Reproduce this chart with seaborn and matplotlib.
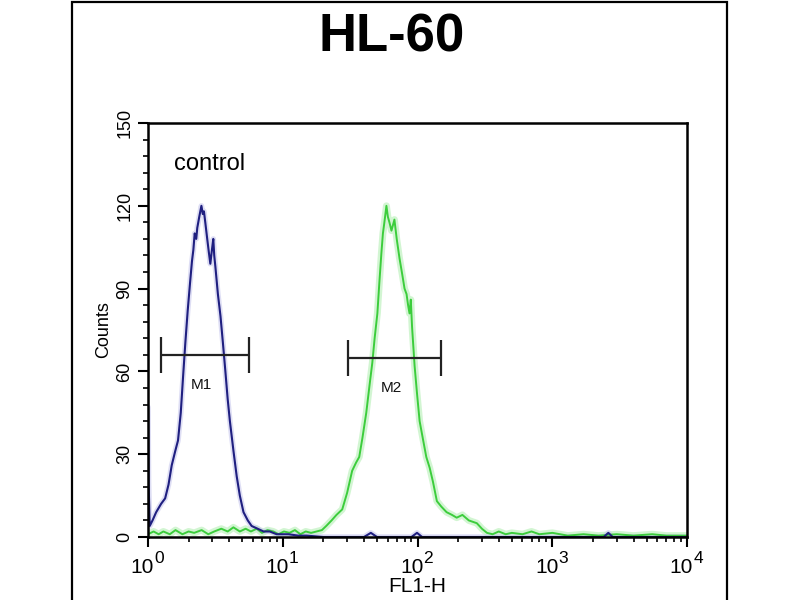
import matplotlib
matplotlib.use("Agg")
import matplotlib.pyplot as plt
import matplotlib.patches as patches
from matplotlib.ticker import LogLocator, MultipleLocator, NullFormatter, FixedLocator
import numpy as np
import pandas as pd
import seaborn as sns

# --- data (FL1-H channel value, counts) ---
control_x = [1.00, 1.01, 1.03, 1.08, 1.15, 1.25, 1.34, 1.42, 1.50, 1.59, 1.67, 1.75,
             1.82, 1.89, 1.97, 2.05, 2.12, 2.17, 2.22, 2.28, 2.32, 2.40, 2.49, 2.55,
             2.60, 2.66, 2.75, 2.83, 2.90, 2.98, 3.05, 3.10, 3.16, 3.30, 3.45, 3.60,
             3.75, 3.90, 4.05, 4.31, 4.55, 4.80, 5.11, 5.50, 5.87, 6.50, 7.20, 8.00,
             9.00, 10.0, 11.0, 13.0, 15.0, 20.0, 40.0, 45.0, 50.0, 90.0, 99.0, 108,
             1000, 2400, 2600, 2800, 10000]
control_y = [47, 20, 4, 6, 9, 12, 14, 19, 26, 31, 35, 45,
             58, 70, 82, 92, 100, 104, 110, 108, 112, 116, 120, 117,
             118, 114, 108, 103, 99, 104, 108, 102, 98, 88, 80, 70,
             60, 50, 42, 31, 22, 15, 9, 6, 4, 3, 2, 2,
             1, 1, 1, 0.5, 0.5, 0, 0, 1.5, 0, 0, 1.5, 0,
             0, 0, 1.5, 0, 0]

sample_x = [1.00, 1.10, 1.20, 1.30, 1.45, 1.60, 1.80, 2.00, 2.20, 2.50, 2.80, 3.10,
            3.50, 3.90, 4.30, 4.80, 5.30, 5.80, 6.40, 7.00, 7.70, 8.50, 9.30, 10.2,
            11.2, 12.3, 13.5, 14.8, 16.2, 17.8, 19.5, 21.0, 23.0, 25.0, 27.6, 30.0,
            32.7, 35.0, 36.9, 39.0, 41.6, 44.0, 46.1, 48.0, 50.3, 52.0, 53.9, 55.3,
            56.7, 58.7, 60.2, 61.8, 64.0, 67.3, 70.0, 73.4, 77.0, 80.0, 82.8, 85.0,
            87.1, 89.0, 91.0, 95.0, 99.0, 103.5, 110, 116, 123, 130, 139, 150,
            164, 180, 195, 215, 240, 275, 300, 327, 360, 400, 450, 500,
            600, 700, 800, 1000, 1300, 1700, 2200, 3000, 4000, 5500, 7000, 10000]
sample_y = [1, 2, 1, 2, 1, 2.5, 1, 2, 1.5, 2.5, 1, 2,
            3, 2, 3.5, 2, 3, 2, 3, 1.5, 2.5, 2, 1, 2,
            1.5, 2.5, 1, 2, 1.5, 2, 2.5, 4, 6, 8, 10, 16,
            24, 27, 29, 36, 45, 55, 63, 72, 81, 92, 103, 110,
            114, 120, 116, 114, 111, 115, 108, 101, 95, 90, 88, 84,
            81, 86, 76, 62, 52, 42, 35, 29, 25, 20, 13, 11,
            9, 8, 7, 8, 6, 5, 3, 1.5, 1, 2, 1, 1.5,
            1, 2, 1, 1.5, 0.5, 1, 0.5, 1, 0.5, 1, 0.5, 0.5]

gate_names = ["M1", "M2"]
gate_lo = [1.25, 30.5]
gate_hi = [5.57, 148]
gate_y = [66, 65]

x_ticks = [1, 10, 100, 1000, 10000]
x_exponents = ["0", "1", "2", "3", "4"]
y_ticks = [0, 30, 60, 90, 120, 150]

title = "HL-60"
annotation = "control"

# --- style ---
sns.set_style("ticks")
plt.rcParams["font.family"] = ["Liberation Sans", "DejaVu Sans"]
plt.rcParams["text.color"] = "black"
plt.rcParams["axes.labelcolor"] = "black"

fig = plt.figure(figsize=(8, 6), dpi=100)
ax = fig.add_axes([0.185, 0.105, 0.674, 0.69])

df_c = pd.DataFrame({"x": control_x, "y": control_y})
df_s = pd.DataFrame({"x": sample_x, "y": sample_y})

# soft halo under each trace, then the trace itself
sns.lineplot(data=df_s, x="x", y="y", ax=ax, color="#bff2bf", lw=5,
             estimator=None, sort=False, alpha=0.7)
sns.lineplot(data=df_c, x="x", y="y", ax=ax, color="#c9c9ee", lw=4,
             estimator=None, sort=False, alpha=0.6)
sns.lineplot(data=df_s, x="x", y="y", ax=ax, color="#3ccd3c", lw=1.4,
             estimator=None, sort=False)
sns.lineplot(data=df_c, x="x", y="y", ax=ax, color="#1f1f80", lw=1.5,
             estimator=None, sort=False)

ax.set_xscale("log")
ax.set_xlim(x_ticks[0], x_ticks[-1])
ax.set_ylim(y_ticks[0], y_ticks[-1])

# gate markers
for name, lo, hi, gy in zip(gate_names, gate_lo, gate_hi, gate_y):
    ax.hlines(gy, lo, hi, color="#222222", lw=1.6)
    ax.vlines([lo, hi], gy - 6.5, gy + 6.5, color="#222222", lw=1.6)
    ax.text(np.sqrt(lo * hi) * 0.95, gy - 11, name, fontsize=11,
            ha="center", va="center", color="#111111")

ax.text(1.55, 135, annotation, fontsize=17, ha="left", va="center")

# axes cosmetics
for sp in ax.spines.values():
    sp.set_visible(True)
    sp.set_linewidth(1.8)
    sp.set_color("black")

ax.yaxis.set_major_locator(FixedLocator(y_ticks))
ax.yaxis.set_minor_locator(MultipleLocator(6))
ax.xaxis.set_major_locator(FixedLocator(x_ticks))
ax.xaxis.set_minor_locator(LogLocator(base=10, subs=np.arange(2, 10), numticks=20))
ax.xaxis.set_major_formatter(NullFormatter())
ax.xaxis.set_minor_formatter(NullFormatter())

ax.tick_params(axis="both", which="major", direction="out", length=7.5, width=1.5,
               colors="black", labelcolor="black")
ax.tick_params(axis="both", which="minor", direction="out", length=3.5, width=1.2,
               colors="black")
ax.tick_params(axis="y", labelsize=13, pad=3)
ax.set_yticklabels([str(v) for v in y_ticks])
plt.setp(ax.get_yticklabels(), rotation=90, va="center")

# x tick labels as 10 with a raised exponent
for t, e in zip(x_ticks, x_exponents):
    ax.annotate("10", xy=(t, 0), xycoords=("data", "axes fraction"),
                xytext=(6, -36), textcoords="offset pixels",
                ha="right", va="baseline", fontsize=15)
    ax.annotate(e, xy=(t, 0), xycoords=("data", "axes fraction"),
                xytext=(6, -26), textcoords="offset pixels",
                ha="left", va="baseline", fontsize=12.5, annotation_clip=False)

ax.set_xlabel("FL1-H", fontsize=15, labelpad=18)
ax.set_ylabel("Counts", fontsize=13, labelpad=3)

fig.suptitle(title, fontsize=38, fontweight="bold", y=0.98, x=0.49, color="black")

# outer frame of the panel
frame = patches.Rectangle((72 / 800, -0.01), (727 - 72) / 800, 1.0075,
                          transform=fig.transFigure, fill=False,
                          edgecolor="black", lw=1.6, clip_on=False)
fig.patches.append(frame)

fig.savefig("out.png", dpi=100)
